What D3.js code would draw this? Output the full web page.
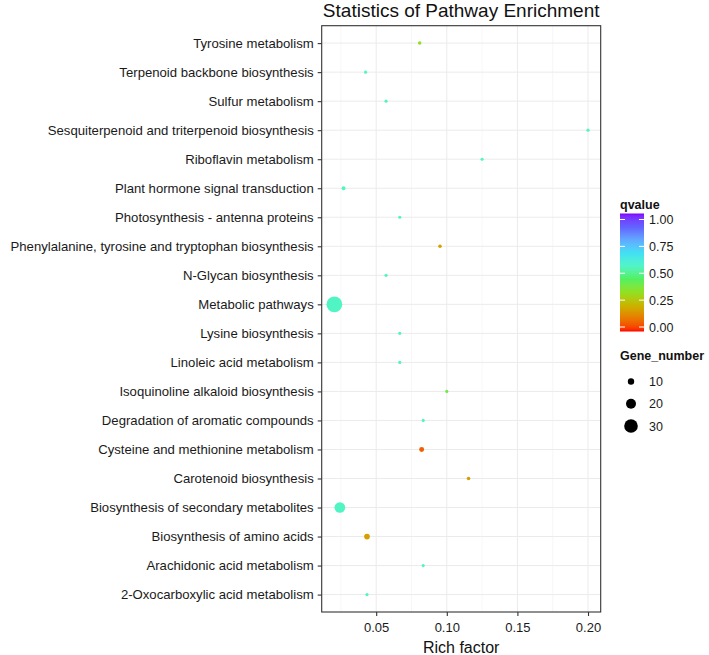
<!DOCTYPE html>
<html>
<head>
<meta charset="utf-8">
<script src="https://cdn.jsdelivr.net/npm/d3@7"></script>
<style>
  html, body { margin: 0; padding: 0; background: #fff; }
  svg { display: block; font-family: "Liberation Sans", Arial, Helvetica, sans-serif; }
</style>
</head>
<body>
<svg id="chart" width="709" height="655"></svg>
<script>
// ---- data ----
const pathways = [
  "Tyrosine metabolism",
  "Terpenoid backbone biosynthesis",
  "Sulfur metabolism",
  "Sesquiterpenoid and triterpenoid biosynthesis",
  "Riboflavin metabolism",
  "Plant hormone signal transduction",
  "Photosynthesis - antenna proteins",
  "Phenylalanine, tyrosine and tryptophan biosynthesis",
  "N-Glycan biosynthesis",
  "Metabolic pathways",
  "Lysine biosynthesis",
  "Linoleic acid metabolism",
  "Isoquinoline alkaloid biosynthesis",
  "Degradation of aromatic compounds",
  "Cysteine and methionine metabolism",
  "Carotenoid biosynthesis",
  "Biosynthesis of secondary metabolites",
  "Biosynthesis of amino acids",
  "Arachidonic acid metabolism",
  "2-Oxocarboxylic acid metabolism"
];
const richFactor = [0.0808, 0.0425, 0.0570, 0.2000, 0.1250, 0.0269, 0.0667, 0.0952, 0.0570, 0.0204,
                    0.0667, 0.0667, 0.1000, 0.0833, 0.0822, 0.1154, 0.0243, 0.0435, 0.0833, 0.0435];
const geneNumber = [2, 1, 1, 1, 1, 3, 1, 2, 1, 36,
                    1, 1, 1, 1, 6, 2, 22, 8, 1, 1];
const qvalue = [0.33, 0.55, 0.55, 0.55, 0.55, 0.55, 0.55, 0.18, 0.55, 0.55,
                0.55, 0.55, 0.40, 0.55, 0.07, 0.18, 0.55, 0.18, 0.55, 0.55];
const xTicks = [0.05, 0.10, 0.15, 0.20];
const xMinor = [0.025, 0.075, 0.125, 0.175];
const qTicks = [0, 0.25, 0.5, 0.75, 1];
const sizeBreaks = [10, 20, 30];
const colourStops = ["#FF0000", "#E87800", "#C8B400", "#90E020", "#50F060", "#50F5C8", "#40E0F5", "#60A8FF", "#6060FF", "#8000FF"];

// ---- layout ----
const svg = d3.select("#chart");
const panel = { left: 321.7, right: 600.7, top: 25.7, bottom: 612 };

const xmin = d3.min(richFactor), xmax = d3.max(richFactor);
const xpad = (xmax - xmin) * 0.05;
const x = d3.scaleLinear().domain([xmin - xpad, xmax + xpad]).range([panel.left, panel.right]);
const y = d3.scalePoint().domain(pathways).range([panel.top, panel.bottom]).padding(0.6);

const colour = d3.scaleLinear()
  .domain(colourStops.map((c, i) => i / (colourStops.length - 1)))
  .range(colourStops)
  .interpolate(d3.interpolateLab);
const radius = d3.scaleLinear().domain([0, 40]).range([1.4, 1.4 + 0.18 * 40]);

// panel background
svg.append("rect")
  .attr("x", panel.left).attr("y", panel.top)
  .attr("width", panel.right - panel.left).attr("height", panel.bottom - panel.top)
  .attr("fill", "#fff");

// grid
const grid = svg.append("g");
grid.selectAll("line.minor").data(xMinor).enter().append("line")
  .attr("x1", d => x(d)).attr("x2", d => x(d))
  .attr("y1", panel.top).attr("y2", panel.bottom)
  .attr("stroke", "#F2F2F2").attr("stroke-width", 0.6);
grid.selectAll("line.majx").data(xTicks).enter().append("line")
  .attr("x1", d => x(d)).attr("x2", d => x(d))
  .attr("y1", panel.top).attr("y2", panel.bottom)
  .attr("stroke", "#EBEBEB").attr("stroke-width", 1);
grid.selectAll("line.majy").data(pathways).enter().append("line")
  .attr("x1", panel.left).attr("x2", panel.right)
  .attr("y1", d => y(d)).attr("y2", d => y(d))
  .attr("stroke", "#EBEBEB").attr("stroke-width", 1);

// points
const pts = pathways.map((p, i) => ({ p, rf: richFactor[i], n: geneNumber[i], q: qvalue[i] }));
svg.append("g").selectAll("circle").data(pts).enter().append("circle")
  .attr("cx", d => x(d.rf)).attr("cy", d => y(d.p))
  .attr("r", d => radius(d.n))
  .attr("fill", d => colour(d.q));

// border
svg.append("rect")
  .attr("x", panel.left).attr("y", panel.top)
  .attr("width", panel.right - panel.left).attr("height", panel.bottom - panel.top)
  .attr("fill", "none").attr("stroke", "#333").attr("stroke-width", 1.1);

// axes
const yAxis = svg.append("g").attr("transform", `translate(${panel.left},0)`)
  .call(d3.axisLeft(y).tickSize(4).tickPadding(4));
const xAxis = svg.append("g").attr("transform", `translate(0,${panel.bottom})`)
  .call(d3.axisBottom(x).tickValues(xTicks).tickFormat(d3.format(".2f")).tickSize(4).tickPadding(4));
[yAxis, xAxis].forEach(a => {
  a.select(".domain").remove();
  a.selectAll(".tick line").attr("stroke", "#333").attr("stroke-width", 1.1);
  a.selectAll(".tick text").attr("fill", "#1a1a1a").style("font-size", "13px");
});
yAxis.selectAll(".tick text").style("font-size", "13.15px");
xAxis.selectAll(".tick text").attr("dy", "0.9em");

// titles
svg.append("text").attr("x", (panel.left + panel.right) / 2).attr("y", 17)
  .attr("text-anchor", "middle").style("font-size", "19px").attr("fill", "#111")
  .text("Statistics of Pathway Enrichment");
svg.append("text").attr("x", (panel.left + panel.right) / 2).attr("y", 653)
  .attr("text-anchor", "middle").style("font-size", "16px").attr("fill", "#111")
  .text("Rich factor");

// ---- colour legend ----
const leg = svg.append("g");
leg.append("text").attr("x", 620).attr("y", 209)
  .style("font-size", "12.5px").style("font-weight", "bold").attr("fill", "#111").text("qvalue");
const barX = 620, barW = 24, barTop = 213.5, barBot = 331.5;
const defs = svg.append("defs");
const grad = defs.append("linearGradient").attr("id", "qgrad")
  .attr("x1", 0).attr("y1", 1).attr("x2", 0).attr("y2", 0);
d3.range(0, 1.0001, 0.02).forEach(t => {
  grad.append("stop").attr("offset", t).attr("stop-color", colour(t));
});
leg.append("rect").attr("x", barX).attr("y", barTop).attr("width", barW).attr("height", barBot - barTop)
  .attr("fill", "url(#qgrad)");
const qy = d3.scaleLinear().domain([0, 1]).range([327, 219.5]);
qTicks.forEach(t => {
  leg.append("line").attr("x1", barX).attr("x2", barX + 5).attr("y1", qy(t)).attr("y2", qy(t))
    .attr("stroke", "#fff").attr("stroke-width", 1);
  leg.append("line").attr("x1", barX + barW - 5).attr("x2", barX + barW).attr("y1", qy(t)).attr("y2", qy(t))
    .attr("stroke", "#fff").attr("stroke-width", 1);
  leg.append("text").attr("x", 649).attr("y", qy(t)).attr("dy", "0.36em")
    .style("font-size", "12.5px").attr("fill", "#1a1a1a").text(d3.format(".2f")(t));
});

// ---- size legend ----
leg.append("text").attr("x", 620).attr("y", 360)
  .style("font-size", "12.5px").style("font-weight", "bold").attr("fill", "#111").text("Gene_number");
const sy = d3.scalePoint().domain(sizeBreaks).range([381.5, 426]);
sizeBreaks.forEach(b => {
  leg.append("circle").attr("cx", 631).attr("cy", sy(b)).attr("r", radius(b)).attr("fill", "#000");
  leg.append("text").attr("x", 649).attr("y", sy(b)).attr("dy", "0.36em")
    .style("font-size", "12.5px").attr("fill", "#1a1a1a").text(b);
});
</script>
</body>
</html>
